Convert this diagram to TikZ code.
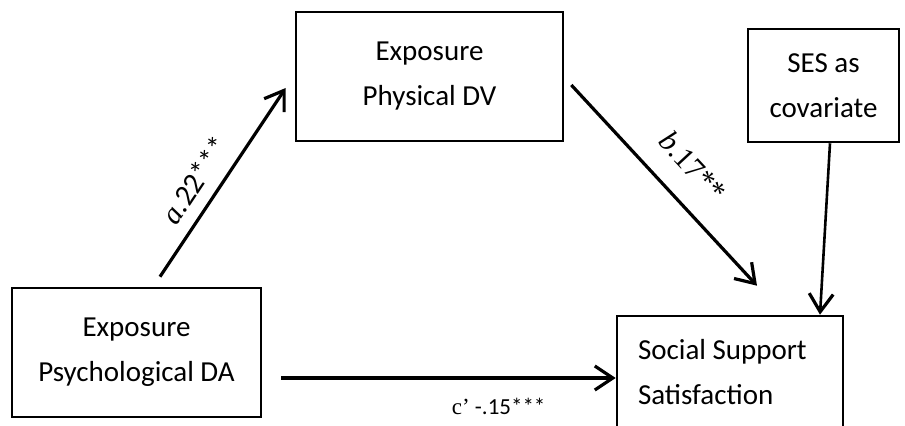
\documentclass[tikz,border=0pt]{standalone}
\usepackage{fontspec}
\setmainfont{Carlito}
\newfontfamily\serifface{Liberation Serif}
\usetikzlibrary{arrows.meta,calc}
\tikzset{
  varbox/.style={draw, line width=1.3pt, inner sep=0pt, align=center,
    font=\fontsize{14.5}{22.5}\selectfont},
  effect/.style={line width=1.6pt, -{Straight Barb[length=9pt,width=12pt,line width=1.6pt]}},
  coeff/.style={font=\fontsize{15}{17}\selectfont, inner sep=2pt}
}
\begin{document}
\begin{tikzpicture}[x=0.5pt,y=-0.5pt]
  \useasboundingbox (0,0) rectangle (905,426);
  % variables
  \node[varbox, minimum width=124.5pt, minimum height=64.5pt] (psyDA) at (136.5,352.5) {Exposure\\Psychological DA};
  \node[varbox, minimum width=133.5pt, minimum height=64.5pt] (physDV) at (429.5,76.5) {Exposure\\Physical DV};
  \node[varbox, minimum width=75.5pt, minimum height=56.5pt] (ses) at (823.5,85.5) {SES as\\covariate};
  \node[varbox, minimum width=113pt, minimum height=56pt, text width=92pt, align=flush left] (socSup) at (730,372) {Social Support\\Satisfaction};
  % arrow ends
  \coordinate (aFrom) at ($(psyDA.north)+(23.5,-10)$);
  \coordinate (aTo) at ($(physDV.west)+(-9,11.5)$);
  \coordinate (bFrom) at ($(physDV.east)+(7,8.5)$);
  \coordinate (bTo) at ($(socSup.north)+(27,-29)$);
  \coordinate (cFrom) at ($(psyDA.east)+(19,25.5)$);
  \coordinate (sesFrom) at ($(ses.south)+(6.5,0)$);
  \coordinate (sesTo) at ($(socSup.north)+(90,0)$);
  % paths
  \draw[effect] (aFrom) -- (aTo) node[coeff, sloped, above=4pt, pos=0.44] {{\serifface\itshape a}.22***};
  \draw[effect] (bFrom) -- (bTo) node[coeff, sloped, above=9pt, pos=0.52] {{\serifface\itshape b}{\serifface .17**}};
  \draw[effect, line width=2.4pt] (cFrom) -- (cFrom -| socSup.west) node[coeff, font=\fontsize{11.5}{14}\selectfont, below=7pt, pos=0.65] {{\serifface c’} -.15***};
  \draw[effect, line width=1.3pt] (sesFrom) -- (sesTo);
\end{tikzpicture}
\end{document}
